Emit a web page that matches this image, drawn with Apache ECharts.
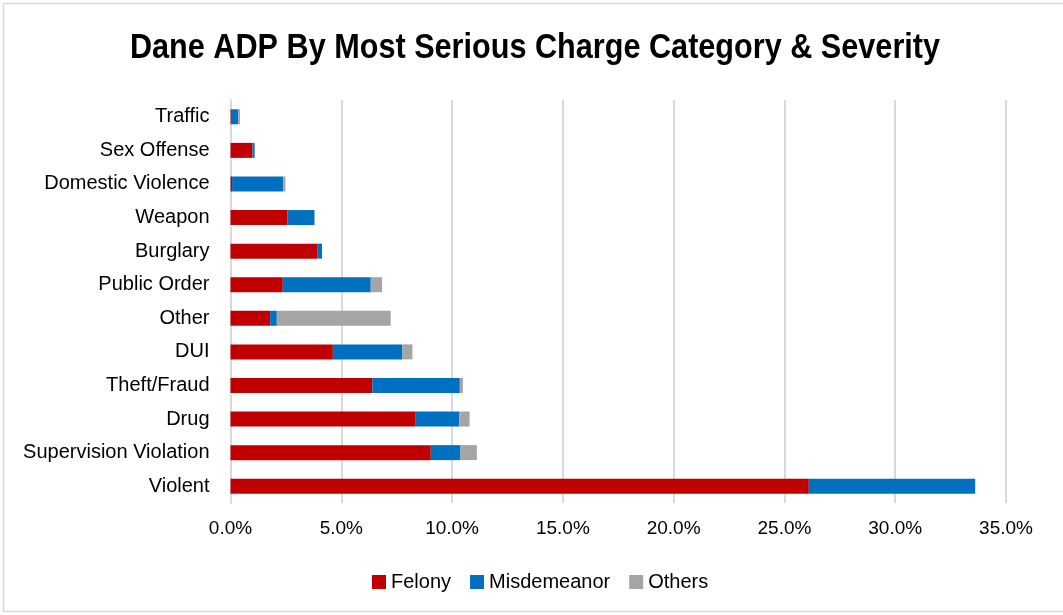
<!DOCTYPE html>
<html>
<head>
<meta charset="utf-8">
<script src="https://cdn.jsdelivr.net/npm/echarts@6/dist/echarts.min.js"></script>
<style>
html,body{margin:0;padding:0;background:#fff;}
#chart{width:1063px;height:615px;}
</style>
</head>
<body>
<div id="chart"></div>
<script>
var categories = ['Traffic','Sex Offense','Domestic Violence','Weapon','Burglary','Public Order','Other','DUI','Theft/Fraud','Drug','Supervision Violation','Violent'];
var felony      = [0.02, 0.99, 0.07, 2.56, 3.91, 2.36, 1.79, 4.62, 6.40, 8.36, 9.04, 26.10];
var misdemeanor = [0.33, 0.10, 2.31, 1.23, 0.22, 3.97, 0.30, 3.14, 3.95, 1.96, 1.34, 7.51];
var others      = [0.08, 0.01, 0.10, 0.02, 0.00, 0.51, 5.14, 0.45, 0.14, 0.47, 0.74, 0.00];
var xTicks = [0, 5, 10, 15, 20, 25, 30, 35];
var titleText = 'Dane ADP By Most Serious Charge Category & Severity';

var FONT = "'Liberation Sans Narrow','Arial Narrow','Liberation Sans',sans-serif";
var chart = echarts.init(document.getElementById('chart'));
chart.setOption({
  backgroundColor: '#fff',
  animation: false,
  graphic: [{
    type: 'rect', shape: { x: 3.5, y: 3.5, width: 1070, height: 608 },
    style: { fill: 'none', stroke: '#d9d9d9', lineWidth: 1.5 }, silent: true, z: 0
  }, {
    type: 'text', x: 535, y: 48, scaleX: 0.875, silent: true, z: 10,
    style: {
      text: titleText, align: 'center', verticalAlign: 'middle',
      fontFamily: "'Liberation Sans',sans-serif", fontWeight: 'bold', fontSize: 35, fill: '#000'
    }
  }],
  legend: {
    bottom: 18,
    left: 367,
    itemWidth: 14, itemHeight: 14, itemGap: 19,
    icon: 'rect',
    textStyle: { fontFamily: FONT, fontSize: 20, color: '#000' },
    data: ['Felony','Misdemeanor','Others']
  },
  grid: { left: 230.5, right: 57, top: 100, bottom: 112, containLabel: false },
  xAxis: {
    type: 'value', min: xTicks[0], max: xTicks[xTicks.length-1], interval: 5,
    axisLine: { show: false }, axisTick: { show: false },
    splitLine: { show: true, lineStyle: { color: '#d9d9d9', width: 2 } },
    axisLabel: { formatter: function(v){ return v.toFixed(1) + '%'; }, fontFamily: FONT, fontSize: 19, color: '#000', margin: 16 }
  },
  yAxis: {
    type: 'category', data: categories, inverse: true,
    axisLine: { show: true, lineStyle: { color: '#d9d9d9', width: 2 } },
    axisTick: { show: false },
    axisLabel: { fontFamily: FONT, fontSize: 20, color: '#000', margin: 21 }
  },
  series: [
    { name: 'Felony', type: 'bar', stack: 't', data: felony, barWidth: 15, itemStyle: { color: '#C00000' } },
    { name: 'Misdemeanor', type: 'bar', stack: 't', data: misdemeanor, barWidth: 15, itemStyle: { color: '#0070C0' } },
    { name: 'Others', type: 'bar', stack: 't', data: others, barWidth: 15, itemStyle: { color: '#A5A5A5' } }
  ]
});
</script>
</body>
</html>
